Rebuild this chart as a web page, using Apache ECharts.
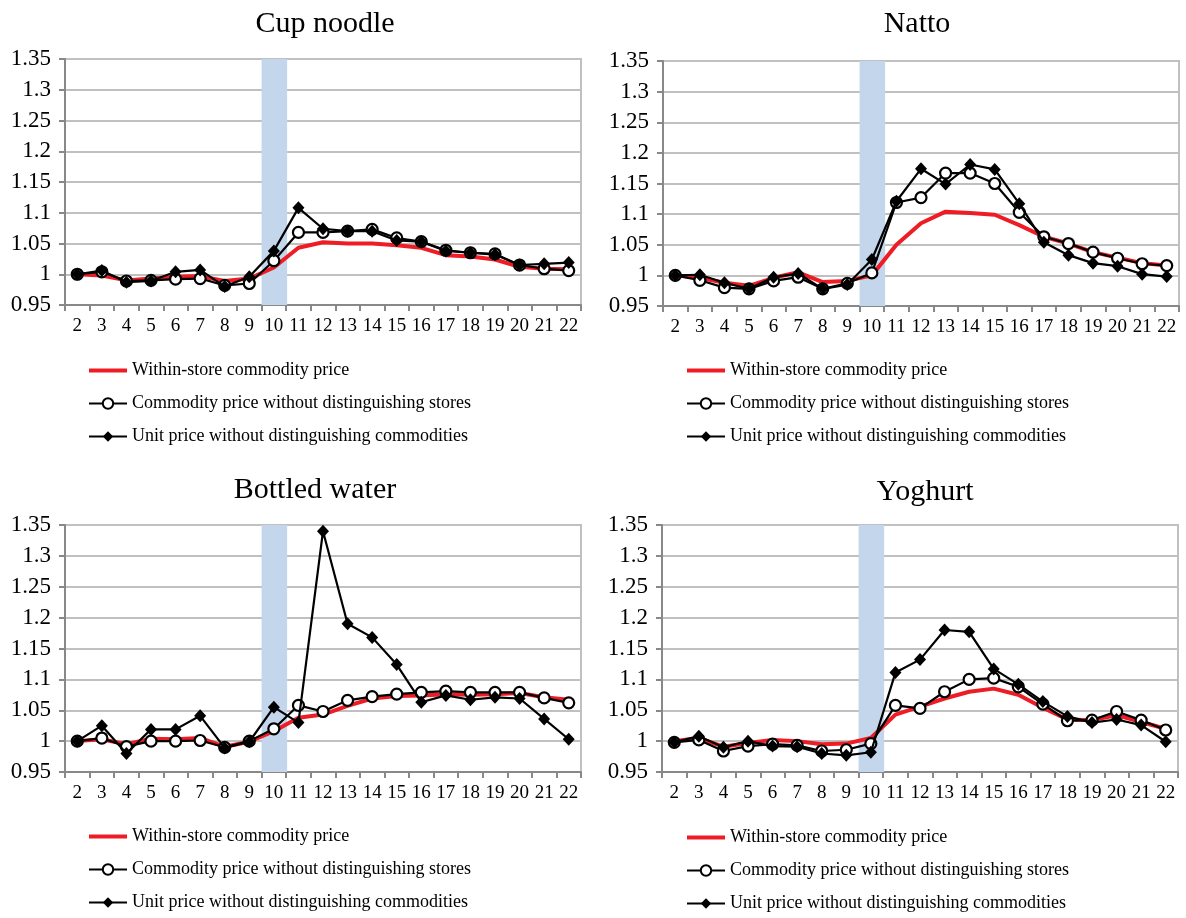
<!DOCTYPE html>
<html>
<head>
<meta charset="utf-8">
<script src="https://cdn.jsdelivr.net/npm/echarts@6/dist/echarts.min.js"></script>
<style>
html,body{margin:0;padding:0;background:#fff;}
#c{width:1186px;height:918px;}
</style>
</head>
<body>
<div id="c"></div>
<script>
const categories = ['2','3','4','5','6','7','8','9','10','11','12','13','14','15','16','17','18','19','20','21','22'];
const seriesNames = ['Within-store commodity price','Commodity price without distinguishing stores','Unit price without distinguishing commodities'];
const panelTitles = ['Cup noodle','Natto','Bottled water','Yoghurt'];
const yTicks = [0.95, 1.35, 0.05];
const shadedCategory = '10';

const cupRed     = [1.000,0.998,0.990,0.993,0.996,0.997,0.989,0.993,1.011,1.043,1.052,1.050,1.050,1.047,1.043,1.031,1.029,1.024,1.012,1.009,1.008];
const cupCircle  = [1.000,1.004,0.989,0.990,0.992,0.993,0.982,0.985,1.022,1.068,1.068,1.070,1.073,1.059,1.053,1.039,1.035,1.033,1.015,1.009,1.006];
const cupDiamond = [1.000,1.006,0.987,0.989,1.004,1.007,0.980,0.996,1.038,1.108,1.074,1.070,1.070,1.055,1.053,1.038,1.035,1.032,1.015,1.017,1.019];

const nattoRed     = [1.000,0.996,0.988,0.983,0.996,1.005,0.989,0.991,1.000,1.050,1.085,1.104,1.102,1.099,1.082,1.063,1.052,1.038,1.029,1.020,1.016];
const nattoCircle  = [1.000,0.992,0.980,0.978,0.991,0.997,0.978,0.987,1.004,1.119,1.127,1.167,1.167,1.150,1.103,1.063,1.052,1.038,1.028,1.019,1.016];
const nattoDiamond = [1.000,1.001,0.988,0.978,0.997,1.003,0.978,0.985,1.026,1.121,1.174,1.149,1.181,1.173,1.117,1.054,1.033,1.020,1.015,1.002,0.998];

const waterRed     = [1.000,1.003,0.995,1.004,1.003,1.005,0.991,0.999,1.016,1.038,1.043,1.057,1.069,1.073,1.074,1.076,1.075,1.076,1.078,1.071,1.067];
const waterCircle  = [1.000,1.005,0.991,1.000,1.000,1.001,0.990,1.000,1.020,1.058,1.048,1.066,1.072,1.076,1.079,1.081,1.079,1.079,1.079,1.070,1.062];
const waterDiamond = [1.000,1.025,0.980,1.019,1.019,1.041,0.989,0.999,1.055,1.030,1.340,1.190,1.168,1.124,1.063,1.074,1.067,1.071,1.069,1.036,1.003];

const yogRed     = [1.000,1.005,0.991,0.997,1.002,1.000,0.995,0.996,1.005,1.043,1.056,1.069,1.080,1.085,1.075,1.054,1.035,1.034,1.042,1.031,1.020];
const yogCircle  = [0.998,1.002,0.984,0.992,0.995,0.993,0.984,0.986,0.996,1.058,1.053,1.080,1.100,1.102,1.088,1.060,1.033,1.034,1.048,1.034,1.018];
const yogDiamond = [0.998,1.008,0.990,1.000,0.992,0.991,0.980,0.977,0.982,1.111,1.132,1.180,1.177,1.117,1.092,1.064,1.040,1.030,1.035,1.026,0.999];

const panelData = [
  [cupRed, cupCircle, cupDiamond],
  [nattoRed, nattoCircle, nattoDiamond],
  [waterRed, waterCircle, waterDiamond],
  [yogRed, yogCircle, yogDiamond]
];

const FONT = '"Liberation Serif","Times New Roman",serif';
const grids = [
  {left:65, top:59, width:516, height:246},
  {left:663, top:61, width:516, height:245},
  {left:65, top:525, width:516, height:247},
  {left:662, top:525, width:516, height:247}
];
const titlePos = [[320,4],[912,4],[310,470],[920,472]];
const legendPos = [[88,361],[686,361],[88,827],[686,828]];

const legendItems = [
  {name:seriesNames[0], icon:'path://M0,0 L38,0 L38,4 L0,4 Z'},
  {name:seriesNames[1]},
  {name:seriesNames[2]}
];

const option = {
  animation:false,
  backgroundColor:'#fff',
  title: panelTitles.map((t,i)=>({text:t, left:titlePos[i][0], top:titlePos[i][1], textAlign:'center',
    textStyle:{fontFamily:FONT, fontSize:30, fontWeight:'normal', color:'#000'}})),
  grid: grids.map(g=>Object.assign({show:true, borderColor:'#c0c0c0', borderWidth:2, backgroundColor:'transparent'}, g)),
  legend: legendPos.map(p=>({
    left:p[0], top:p[1], orient:'vertical', data:legendItems, itemWidth:38, itemHeight:13, itemGap:14,
    padding:0, height:120, selectedMode:false,
    textStyle:{fontFamily:FONT, fontSize:18, color:'#000', lineHeight:19}
  })),
  xAxis: grids.map((g,i)=>({
    type:'category', gridIndex:i, data:categories, boundaryGap:true,
    axisLine:{lineStyle:{color:'#888', width:2}},
    axisTick:{show:true, length:6, lineStyle:{color:'#888', width:2}},
    axisLabel:{interval:0, fontFamily:FONT, fontSize:19, color:'#000', margin:12},
    splitLine:{show:false}
  })),
  yAxis: grids.map((g,i)=>({
    type:'value', gridIndex:i, min:yTicks[0], max:yTicks[1], interval:yTicks[2],
    axisLine:{show:true, lineStyle:{color:'#888', width:2}},
    axisTick:{show:true, length:6, lineStyle:{color:'#888', width:2}},
    axisLabel:{fontFamily:FONT, fontSize:23, color:'#000', margin:14,
      formatter:v=>String(parseFloat(v.toFixed(2)))},
    splitLine:{show:true, lineStyle:{color:'#c0c0c0', width:2}}
  })),
  series: []
};

panelData.forEach((arrs,i)=>{
  option.series.push({
    type:'custom', xAxisIndex:i, yAxisIndex:i, silent:true, z:1,
    data:[[shadedCategory, yTicks[1], yTicks[0]]],
    encode:{x:0, y:[1,2]},
    renderItem:(params, api)=>{
      const idx = api.value(0);
      const top = api.coord([idx, api.value(1)]);
      const bot = api.coord([idx, api.value(2)]);
      const w = api.size([1,0])[0];
      return {type:'rect', shape:{x:top[0]-w/2, y:top[1], width:w+1, height:bot[1]-top[1]},
        style:{fill:'#c4d6ec'}};
    }
  });
  option.series.push({
    name:seriesNames[0], type:'line', xAxisIndex:i, yAxisIndex:i, data:arrs[0],
    symbol:'none', lineStyle:{color:'#ee1c25', width:4}, itemStyle:{color:'#ee1c25'}, z:2
  });
  option.series.push({
    name:seriesNames[1], type:'line', xAxisIndex:i, yAxisIndex:i, data:arrs[1],
    symbol:'circle', symbolSize:11, lineStyle:{color:'#000', width:2.2},
    itemStyle:{color:'#fff', borderColor:'#000', borderWidth:2.2}, z:3
  });
  option.series.push({
    name:seriesNames[2], type:'line', xAxisIndex:i, yAxisIndex:i, data:arrs[2],
    symbol:'diamond', symbolSize:[12,13], lineStyle:{color:'#000', width:2.2},
    itemStyle:{color:'#000', borderColor:'#000', borderWidth:0}, z:4
  });
});

const chart = echarts.init(document.getElementById('c'), null, {renderer:'canvas'});
chart.setOption(option);
</script>
</body>
</html>
